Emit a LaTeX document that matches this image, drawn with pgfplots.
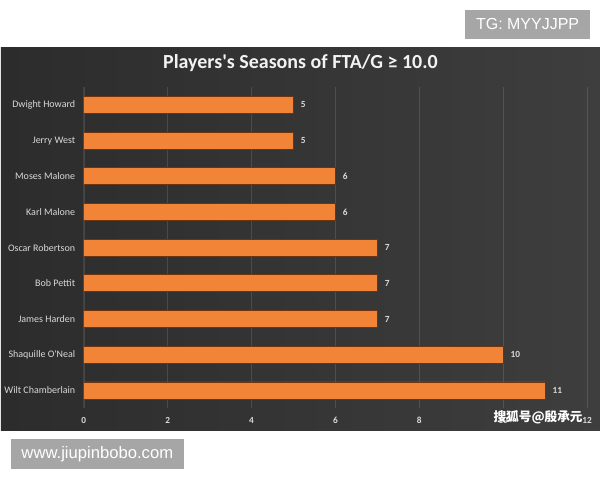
\documentclass[border=0pt]{standalone}
\usepackage{fontspec}
\setmainfont{Carlito}
\newfontfamily\arial{Liberation Sans}
\newfontfamily\cjk{Noto Sans CJK SC}
\usepackage{pgfplots}
\pgfplotsset{compat=1.18}
\definecolor{bgleft}{HTML}{2C2C2C}
\definecolor{bgmid}{HTML}{4B4B4B}
\definecolor{bgright}{HTML}{3E3E3E}
\definecolor{boxgray}{HTML}{A6A6A6}
\definecolor{barmid}{HTML}{F28437}
\definecolor{baredge}{HTML}{6E3412}
\definecolor{lbl}{HTML}{D9D9D9}
\begin{document}
\begin{tikzpicture}
\fill[white] (0pt,0pt) rectangle (450pt,360pt);
\shade[left color=bgleft, middle color=bgmid, right color=bgright] (0pt,36.4pt) rectangle (450pt,324pt);
\fill[boxgray] (348.75pt,330.75pt) rectangle (442.5pt,352.5pt);
\node[white] at (395.6pt,341.6pt) {\arial\fontsize{12}{14}\selectfont TG: MYYJJPP};
\fill[boxgray] (7.5pt,7.5pt) rectangle (137.25pt,30pt);
\node[white] at (72.4pt,18.75pt) {\arial\fontsize{12.5}{15}\selectfont www.jiupinbobo.com};
\node[color=white!95!black] at (225pt,312.75pt) {\bfseries\fontsize{15}{18}\selectfont Players\textquotesingle s Seasons of FTA/G ≥ 10.0};
\begin{axis}[
  at={(62.25pt,53.3pt)}, anchor=south west,
  scale only axis, width=378pt, height=241.3pt,
  xmin=0, xmax=12, ymin=-0.5, ymax=8.5,
  xbar, bar width=12.75pt,
  /pgf/number format/assume math mode=true,
  ytick={0,...,8},
  yticklabels={Wilt Chamberlain, Shaquille O\textquotesingle Neal, James Harden, Bob Pettit, Oscar Robertson, Karl Malone, Moses Malone, Jerry West, Dwight Howard},
  xtick={0,2,...,12},
  axis line style={draw=none},
  major tick length=0pt,
  xmajorgrids, grid style={white, opacity=0.12},
  xticklabel style={font=\bfseries\fontsize{7}{8}\selectfont, color=lbl, yshift=-3pt},
  yticklabel style={font=\fontsize{7.5}{9}\selectfont, color=lbl, xshift=-3pt},
  nodes near coords,
  nodes near coords style={anchor=west, font=\bfseries\fontsize{7}{8}\selectfont, color=lbl, xshift=2pt},
]
\addplot[draw=baredge, line width=0.6pt, fill=barmid] coordinates {
  (11,0) (10,1) (7,2) (7,3) (7,4) (6,5) (6,6) (5,7) (5,8)
};
\draw[color=white!75!black, line width=0.6pt] (axis cs:0,-0.5) -- (axis cs:0,8.5);
\end{axis}
\node[white] at (403.5pt,46.5pt) {\cjk\bfseries\fontsize{9.5}{11}\selectfont 搜狐号@殷承元};
\end{tikzpicture}
\end{document}
